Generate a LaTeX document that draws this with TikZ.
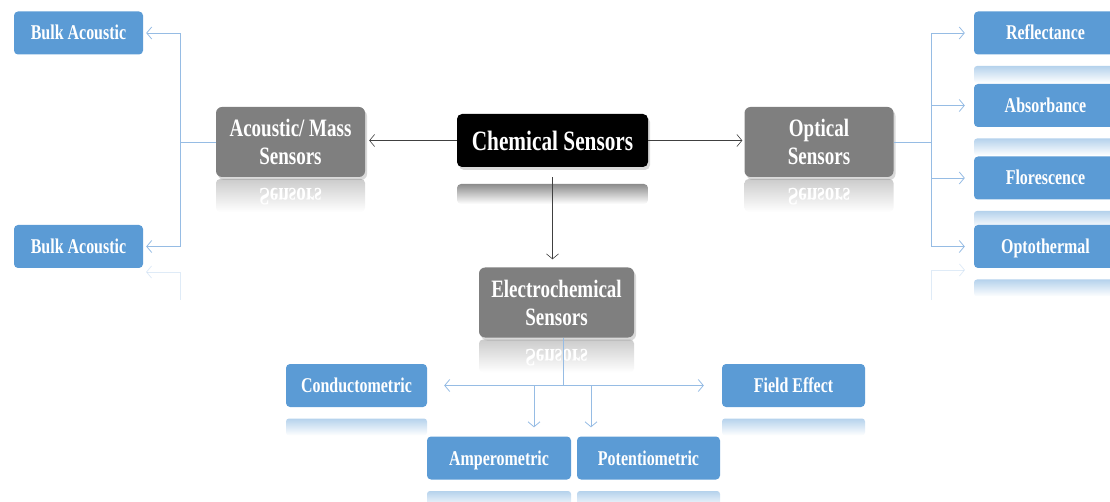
\documentclass[tikz,border=0pt]{standalone}
\usepackage{fontspec}
\setmainfont{Liberation Serif}[FakeStretch=0.76]
\usepackage{tikz}
\usetikzlibrary{positioning,shadows,arrows.meta}
\definecolor{leafblue}{RGB}{91,155,213}
\definecolor{sensorgray}{RGB}{127,127,127}
\definecolor{linkblue}{RGB}{150,188,228}
\tikzset{
	leaf/.style={fill=leafblue, rounded corners=4pt, text=white, minimum height=43, inner sep=2pt, text height=18pt, text depth=4pt, font=\fontsize{21}{24}\selectfont\bfseries},
	sensor/.style={fill=sensorgray, rounded corners=6pt, text=white, align=center, minimum height=70, inner sep=2pt, font=\fontsize{25}{28}\selectfont\bfseries, drop shadow={shadow xshift=2pt, shadow yshift=-3pt, opacity=0.3}},
	link/.style={black!75, line width=0.6pt, -{Straight Barb[length=5pt,width=12pt]}},
	branch/.style={linkblue, line width=0.8pt},
	brancharrow/.style={branch, -{Straight Barb[length=5pt,width=12pt]}},
}
% width, name, x, y, text
\newcommand{\leafbox}[5][143]{%
	\shade [top color=leafblue!45, bottom color=white, rounded corners=3pt] (#3-#1/2,#4+33) rectangle (#3+#1/2,#4+50);
	\node [leaf, minimum width=#1] (#2) at (#3,#4) {#5};
}
\newcommand{\sensorbox}[5][149]{%
	\shade [top color=sensorgray!40, bottom color=white, rounded corners=4pt] (#3-#1/2,#4+37) rectangle (#3+#1/2,#4+70);
	\node [white, inner sep=0pt, font=\fontsize{25}{28}\selectfont\bfseries] (#2m) at (#3,#4+55) {\scalebox{1}[-1]{Sensors}};
	\node [sensor, minimum width=#1] (#2) at (#3,#4) {#5};
}

\begin{document}
\begin{tikzpicture}[x=1pt, y=-1pt]

	\useasboundingbox (0,0) rectangle (1110,502);
	\clip (0,0) rectangle (1110,502);

	% centre
	\shade [top color=black!45, bottom color=white, rounded corners=4pt] (457,184) rectangle (648,204);
	\node [fill=black, rounded corners=5pt, text=white, minimum width=191, minimum height=53, font=\fontsize{28}{30}\selectfont\bfseries, drop shadow={shadow xshift=2pt, shadow yshift=-3pt, opacity=0.3}] (chem) at (552.5,140.5) {Chemical Sensors};

	\sensorbox{acou}{290.5}{142}{Acoustic/ Mass\\Sensors}
	\sensorbox{opt}{819}{142}{Optical\\Sensors}
	\sensorbox[155]{elec}{556.5}{302.5}{Electrochemical\\Sensors}

	\draw [link, shorten >=4pt] (chem.west) -- (chem.west -| acou.east);
	\draw [link, shorten >=2pt] (chem.east) -- (chem.east -| opt.west);
	\draw [link, shorten <=10pt, shorten >=8pt] (chem.south) -- (chem.south |- elec.north);

	% acoustic / mass
	\node [leaf, minimum width=129] (bulkup) at (78.5,33) {Bulk Acoustic};
	\node [leaf, minimum width=129] (bulkdown) at (78.5,246.5) {Bulk Acoustic};
	\coordinate (acoujoin) at (180,142);
	\draw [branch] (acou.west) -- (acoujoin);
	\draw [brancharrow, shorten >=3pt] (acoujoin) |- (bulkup.east);
	\draw [brancharrow, shorten >=3pt] (acoujoin) |- (bulkdown.east);
	\coordinate (acoughost) at (180,300);
	\coordinate (acoughosttip) at (146,272);
	\draw [brancharrow, opacity=0.3] (acoughost) |- (acoughosttip);

	% optical
	\leafbox{refl}{1045.5}{33}{Reflectance}
	\leafbox{absorb}{1045.5}{105.5}{Absorbance}
	\leafbox{flor}{1045.5}{178}{Florescence}
	\leafbox{opto}{1045.5}{246.5}{Optothermal}
	\coordinate (optjoin) at (931,142);
	\draw [branch] (opt.east) -- (optjoin);
	\foreach \leafname in {refl,absorb,flor,opto}
		\draw [brancharrow, shorten >=9pt] (optjoin) |- (\leafname.west);
	\coordinate (optghost) at (931,300);
	\coordinate (optghosttip) at (965,270);
	\draw [brancharrow, opacity=0.3] (optghost) |- (optghosttip);

	% electrochemical
	\leafbox[141]{cond}{356.5}{385.5}{Conductometric}
	\leafbox{field}{793.5}{385.5}{Field Effect}
	\leafbox[144]{amp}{499}{458}{Amperometric}
	\leafbox{pot}{648.5}{458}{Potentiometric}
	\coordinate (elecjoin) at (563,385.5);
	\coordinate (ampjoin) at (534,385.5);
	\coordinate (potjoin) at (591,385.5);
	\draw [branch] (elec.south -| elecjoin) -- (elecjoin);
	\draw [brancharrow, shorten >=17pt] (elecjoin) -- (cond.east);
	\draw [brancharrow, shorten >=18pt] (elecjoin) -- (field.west);
	\draw [brancharrow, shorten >=9pt] (ampjoin) -- (ampjoin |- amp.north);
	\draw [brancharrow, shorten >=9pt] (potjoin) -- (potjoin |- pot.north);

\end{tikzpicture}
\end{document}
